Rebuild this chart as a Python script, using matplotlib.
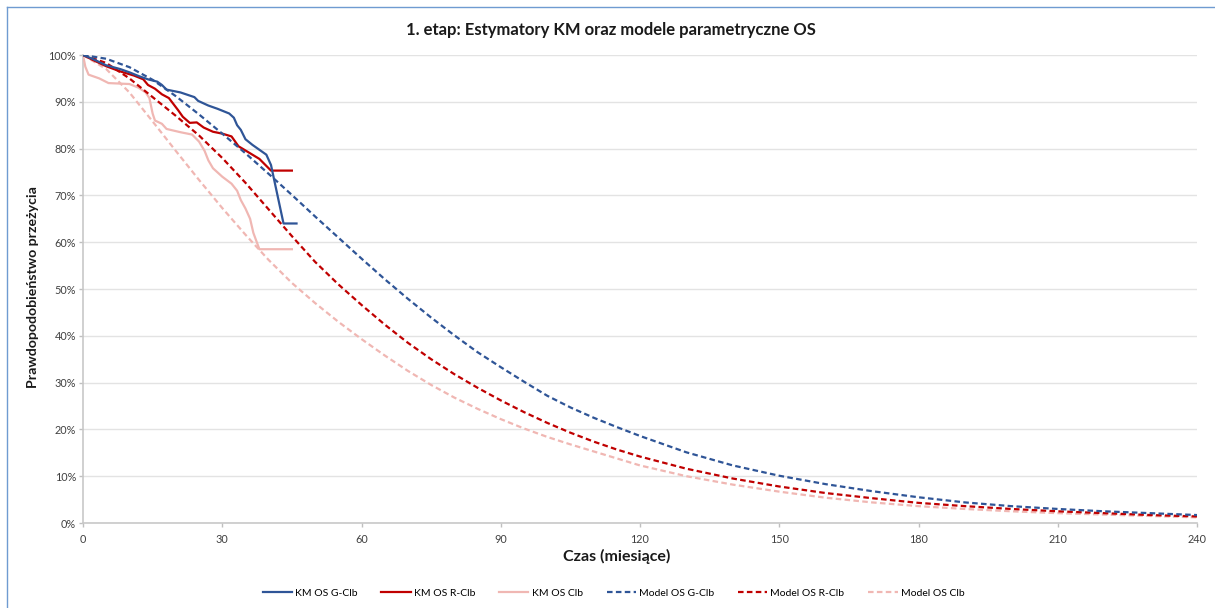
import matplotlib
matplotlib.use("Agg")
import matplotlib.pyplot as plt
from matplotlib.lines import Line2D
from matplotlib.ticker import FuncFormatter

plt.rcParams['font.family'] = ['Lato', 'DejaVu Sans']

# --- dane (miesiące, % przeżycia) ---
km_g_t = [0, 2, 5, 8, 10, 12, 14, 16, 17, 18, 21, 24, 24.8, 27, 29, 31.5,
          32.5, 33.2, 34, 35, 36.5, 39.5, 40.5, 43.2, 46]
km_g_s = [100, 99.2, 97.8, 97.0, 96.3, 95.5, 94.8, 94.3, 93.6, 92.6, 92.0,
          91.0, 90.2, 89.2, 88.5, 87.5, 86.6, 85.0, 84.0, 82.0, 80.8, 78.7,
          76.5, 64.0, 64.0]

km_r_t = [0, 2, 5, 8, 11, 13, 14, 15.5, 17, 18.5, 19.5, 20.5, 21.5, 23, 24.5,
          26, 28, 30, 32, 33.5, 36, 38, 40.5, 45]
km_r_s = [100, 99.0, 97.6, 96.5, 95.6, 94.8, 93.6, 92.8, 91.6, 90.8, 89.5,
          88.2, 86.8, 85.5, 85.6, 84.5, 83.6, 83.2, 82.6, 80.5, 79.0, 77.8,
          75.3, 75.3]

km_c_t = [0, 0.5, 1.2, 3.5, 5.5, 10, 12, 13.5, 14.3, 15, 15.5, 17, 18, 21,
          23.5, 25, 26.2, 27, 28, 30, 32, 33.2, 34, 35, 36, 36.7, 38, 45]
km_c_s = [100, 97.5, 95.8, 95.0, 94.0, 93.8, 93.0, 92.0, 90.8, 87.5, 86.0,
          85.3, 84.2, 83.5, 83.0, 81.5, 79.5, 77.5, 75.8, 74.0, 72.5, 71.0,
          69.0, 67.2, 65.0, 62.0, 58.5, 58.5]

model_t = [0, 5, 10, 15, 20, 25, 30, 35, 40, 45, 50, 55, 60, 65, 70, 75, 80,
           85, 90, 95, 100, 105, 110, 115, 120, 130, 140, 150, 160, 170, 180,
           190, 200, 210, 220, 230, 240]
model_g = [100, 99.2, 97.4, 94.7, 91.2, 87.3, 83.2, 79.0, 74.6, 70.1, 65.5,
           61.0, 56.5, 52.1, 47.9, 43.9, 40.1, 36.5, 33.3, 30.2, 27.2, 24.7,
           22.5, 20.5, 18.6, 15.1, 12.3, 10.1, 8.3, 6.8, 5.5, 4.4, 3.6, 3.0,
           2.5, 2.1, 1.7]
model_r = [100, 98.3, 95.0, 91.0, 87.0, 82.8, 78.0, 72.7, 67.0, 61.3, 55.8,
           51.0, 46.6, 42.4, 38.5, 35.0, 31.8, 28.9, 26.2, 23.7, 21.4, 19.3,
           17.4, 15.7, 14.2, 11.6, 9.5, 7.8, 6.4, 5.3, 4.3, 3.6, 3.0, 2.5,
           2.1, 1.7, 1.4]
model_c = [100, 97.0, 92.0, 85.8, 79.5, 73.3, 67.3, 61.6, 56.2, 51.3, 47.0,
           43.0, 39.3, 35.8, 32.5, 29.5, 26.8, 24.4, 22.2, 20.2, 18.4, 16.8,
           15.3, 13.8, 12.3, 10.0, 8.2, 6.7, 5.4, 4.4, 3.6, 3.0, 2.5, 2.1,
           1.8, 1.5, 1.2]

x_ticks = list(range(0, 241, 30))
y_ticks = list(range(0, 101, 10))

BLUE = '#2F5597'
RED = '#C00000'
PINK = '#F0B7B3'

fig = plt.figure(figsize=(12.15, 6.08), dpi=100)
ax = fig.add_axes([83 / 1215, 1 - 523 / 608, (1197 - 83) / 1215, (523 - 55) / 608])

lw = 1.6
dash = (2.5, 1.5)
ax.plot(km_g_t, km_g_s, color=BLUE, lw=lw, label='KM OS G-Clb', zorder=5)
ax.plot(km_r_t, km_r_s, color=RED, lw=lw, label='KM OS R-Clb', zorder=4)
ax.plot(km_c_t, km_c_s, color=PINK, lw=lw, label='KM OS Clb', zorder=3)
ax.plot(model_t, model_g, color=BLUE, lw=lw, ls=(0, dash), label='Model OS G-Clb', zorder=4)
ax.plot(model_t, model_r, color=RED, lw=lw, ls=(0, dash), label='Model OS R-Clb', zorder=3)
ax.plot(model_t, model_c, color=PINK, lw=lw, ls=(0, dash), label='Model OS Clb', zorder=2)

ax.set_xlim(0, 240)
ax.set_ylim(0, 100)
ax.set_xticks(x_ticks)
ax.set_yticks(y_ticks)
ax.yaxis.set_major_formatter(FuncFormatter(lambda v, p: f'{v:.0f}%'))
ax.tick_params(axis='both', labelsize=7.8, colors='#BFBFBF', labelcolor='#404040',
               length=3, width=1)
ax.tick_params(axis='x', pad=5)
ax.tick_params(axis='y', pad=2)
ax.grid(axis='y', color='#E3E3E3', lw=1)
ax.set_axisbelow(True)
for side in ['top', 'right']:
    ax.spines[side].set_visible(False)
for side in ['left', 'bottom']:
    ax.spines[side].set_color('#C8C8C8')
    ax.spines[side].set_linewidth(1.2)

fig.text(0.503, 1 - 30 / 608, '1. etap: Estymatory KM oraz modele parametryczne OS',
         ha='center', va='center', fontsize=12, fontweight='bold', color='#1a1a1a')
fig.text(33 / 1215, 1 - 287 / 608, 'Prawdopodobieństwo przeżycia', rotation=90,
         ha='center', va='center', fontsize=10.2, fontweight='bold', color='#1a1a1a')
fig.text(617 / 1215, 1 - 556 / 608, 'Czas (miesiące)', ha='center', va='center',
         fontsize=11.5, fontweight='bold', color='#1a1a1a')

fig.legend(loc='center', bbox_to_anchor=(0.505, 1 - 593 / 608), ncol=6,
           frameon=False, fontsize=7.5, handlelength=2.8, handletextpad=0.3,
           columnspacing=2.3)

# ramka obszaru wykresu (lewa i górna krawędź)
fig.add_artist(Line2D([7 / 1215, 7 / 1215], [0, 1 - 7 / 608], transform=fig.transFigure,
                      color='#6F9BD1', lw=1))
fig.add_artist(Line2D([7 / 1215, 1], [1 - 7 / 608, 1 - 7 / 608], transform=fig.transFigure,
                      color='#6F9BD1', lw=1))

fig.savefig('out.png', dpi=100)
